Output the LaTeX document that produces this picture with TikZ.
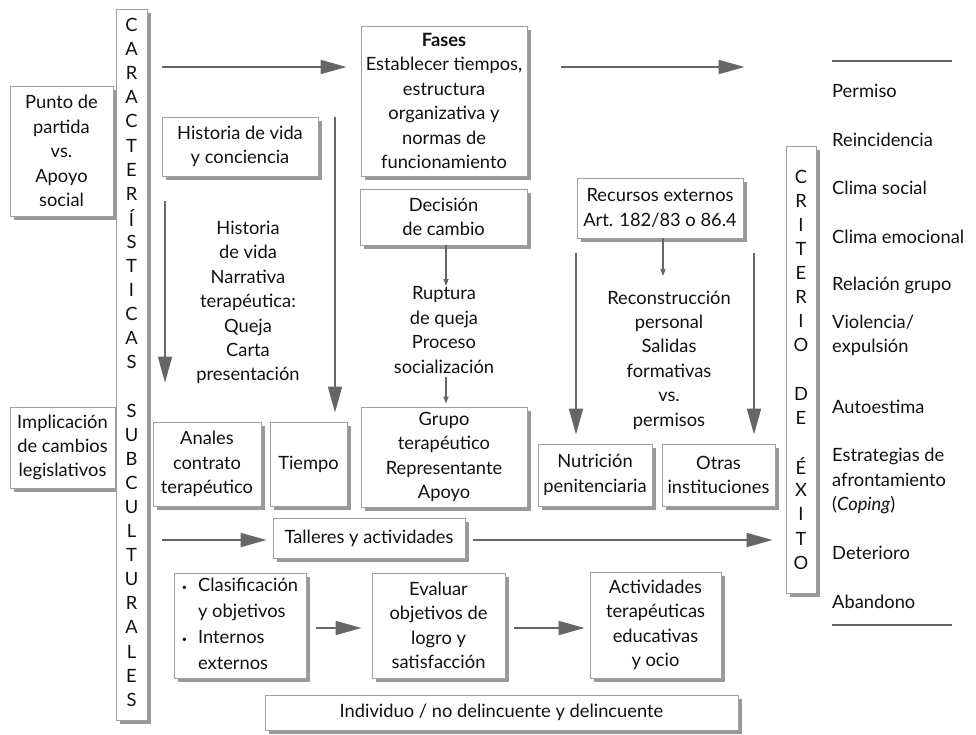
\documentclass[tikz,border=0pt]{standalone}
\usepackage{fontspec}
\setmainfont{Lato}
\usetikzlibrary{arrows.meta,shadows}

\definecolor{boxline}{HTML}{A0A0A0}
\definecolor{shade}{HTML}{999999}
\definecolor{arrowgray}{HTML}{666666}
\definecolor{textgray}{HTML}{111111}

\newcommand\dfont{\fontsize{18.3}{24.4}\selectfont}

\begin{document}
\begin{tikzpicture}[x=1pt,y=-1pt,
  every node/.style={text=textgray},
  box/.style={draw=boxline, line width=0.9pt, fill=white, inner sep=0pt,
    align=center, font=\dfont,
    general shadow={fill=shade, shadow xshift=4pt, shadow yshift=-4pt}},
  plain/.style={inner sep=0pt, align=center, font=\dfont},
  listitem/.style={inner sep=0pt, align=left, anchor=west, font=\dfont},
  letter/.style={inner sep=0pt, font=\dfont},
  bigarrow/.style={draw=arrowgray, line width=1.8pt,
    -{Triangle[length=26pt,width=14pt]}},
  smallarrow/.style={draw=arrowgray, line width=1.3pt,
    -{Triangle[length=7pt,width=5pt]}},
  rulefine/.style={draw=arrowgray, line width=1.6pt}]

\useasboundingbox (0,0) rectangle (976,734);

% ---- left column -------------------------------------------------------
\node[box, minimum width=103pt, minimum height=130pt] (punto) at (61.5,151)
  {Punto de\\partida\\vs.\\Apoyo\\social};
\node[box, minimum width=105pt, minimum height=81pt] (impl) at (62.5,447.5)
  {Implicación\\de cambios\\legislativos};

% vertical band with spelled-out title
\node[box, minimum width=31pt, minimum height=711pt] (carac) at (131.5,364.5) {};
\foreach \ch [count=\i from 0] in {C,A,R,A,C,T,E,R,Í,S,T,I,C,A,S}
  \node[letter] (ca\i) at (131.5,25+24.1*\i) {\ch};
\foreach \ch [count=\i from 0] in {S,U,B,C,U,L,T,U,R,A,L,E,S}
  \node[letter] (su\i) at (131.5,410.5+24.1*\i) {\ch};

% ---- upper part ----------------------------------------------------------
\node[box, minimum width=166pt, minimum height=150pt] (fases) at (444,101)
  {\textbf{Fases}\\Establecer tiempos,\\estructura\\organizativa y\\normas de\\funcionamiento};
\node[box, minimum width=156pt, minimum height=59pt] (historia) at (240,146.5)
  {Historia de vida\\y conciencia};
\node[box, minimum width=167pt, minimum height=56pt] (decision) at (443.5,217)
  {Decisión\\de cambio};
\node[box, minimum width=166pt, minimum height=60pt] (recursos) at (660,208)
  {Recursos externos\\Art. 182/83 o 86.4};

\node[plain] (narrativa) at (248,302.5)
  {Historia\\de vida\\Narrativa\\terapéutica:\\Queja\\Carta\\presentación};
\node[plain] (ruptura) at (444,330)
  {Ruptura\\de queja\\Proceso\\socialización};
\node[plain] (reconstr) at (669,360)
  {Reconstrucción\\personal\\Salidas\\formativas\\vs.\\permisos};

% ---- middle row ----------------------------------------------------------
\node[box, minimum width=108pt, minimum height=84pt] (anales) at (207,464)
  {Anales\\contrato\\terapéutico};
\node[box, minimum width=77pt, minimum height=84pt] (tiempo) at (308.5,464)
  {Tiempo};
\node[box, minimum width=166pt, minimum height=100pt] (grupo) at (444,457)
  {Grupo\\terapéutico\\Representante\\Apoyo};
\node[box, minimum width=114pt, minimum height=62pt] (nutricion) at (595,475)
  {Nutrición\\penitenciaria};
\node[box, minimum width=113pt, minimum height=62pt] (otras) at (718.5,475)
  {Otras\\instituciones};
\node[box, minimum width=192pt, minimum height=40pt] (talleres) at (369,538)
  {Talleres y actividades};

% ---- lower part ----------------------------------------------------------
\node[box, minimum width=132pt, minimum height=105pt] (clasif) at (240,625.5)
  {\begin{tabular}{@{}l@{\hspace{11pt}}l@{}}
     \raisebox{1pt}{\small\textbullet} & Clasificación\\[1.5pt]
      & y objetivos\\[1.5pt]
     \raisebox{1pt}{\small\textbullet} & Internos\\[1.5pt]
      & externos
   \end{tabular}};
\node[box, minimum width=133pt, minimum height=105pt] (evaluar) at (438.5,625.5)
  {Evaluar\\objetivos de\\logro y\\satisfacción};
\node[box, minimum width=131pt, minimum height=106pt] (activ) at (655.5,625)
  {Actividades\\terapéuticas\\educativas\\y ocio};
\node[box, minimum width=473pt, minimum height=35pt] (indiv) at (501.5,712.5)
  {Individuo / no delincuente y delincuente};

% ---- success criteria band and list ---------------------------------------
\node[box, minimum width=30pt, minimum height=447pt] (criterio) at (801,369.5) {};
\foreach \ch [count=\i from 0] in {C,R,I,T,E,R,I,O}
  \node[letter] (cr\i) at (801,177+24*\i) {\ch};
\foreach \ch [count=\i from 0] in {D,E}
  \node[letter] (de\i) at (801,394+24*\i) {\ch};
\foreach \ch [count=\i from 0] in {É,X,I,T,O}
  \node[letter] (ex\i) at (801,466+24.2*\i) {\ch};

\node[listitem] (l1) at (832,91)  {Permiso};
\node[listitem] (l2) at (832,140) {Reincidencia};
\node[listitem] (l3) at (832,188) {Clima social};
\node[listitem] (l4) at (832,237) {Clima emocional};
\node[listitem] (l5) at (832,285) {Relación grupo};
\node[listitem] (l6) at (832,335.5) {Violencia/\\expulsión};
\node[listitem] (l7) at (832,407) {Autoestima};
\node[listitem] (l8) at (832,481) {Estrategias de\\afrontamiento\\(\textit{Coping})};
\node[listitem] (l9) at (832,553) {Deterioro};
\node[listitem] (l10) at (832,602) {Abandono};

\coordinate (ruleAa) at (832,61);
\coordinate (ruleAb) at (952,61);
\coordinate (ruleBa) at (832,625);
\coordinate (ruleBb) at (952,625);
\draw[rulefine] (ruleAa) -- (ruleAb);
\draw[rulefine] (ruleBa) -- (ruleBb);

% ---- connectors ------------------------------------------------------------
\coordinate (rupIn)  at (446,286);
\coordinate (rupOut) at (446,377);
\coordinate (recIn)  at (663,276);
\coordinate (leftTop)  at (576,253);
\coordinate (rightTop) at (754,253);

\draw[bigarrow, shorten <=15pt, shorten >=14pt]
  (carac.east |- 0,67) -- (fases.west |- 0,67);
\draw[bigarrow, shorten <=34pt, shorten >=41pt]
  (fases.east |- 0,67) -- (criterio.west |- 0,67);

\draw[bigarrow, shorten <=25pt, shorten >=39pt]
  (165,0 |- historia.south) -- (165,0 |- anales.north);
\draw[bigarrow, shorten >=9pt]
  (335,0 |- historia.north) -- (335,0 |- tiempo.north);

\draw[smallarrow] (446,0 |- decision.south) -- (rupIn);
\draw[smallarrow, shorten >=3pt] (rupOut) -- (446,0 |- grupo.north);
\draw[smallarrow] (663,0 |- recursos.south) -- (recIn);

\draw[bigarrow, shorten >=9pt] (leftTop) -- (576,0 |- nutricion.north);
\draw[bigarrow, shorten >=9pt] (rightTop) -- (754,0 |- otras.north);

\draw[bigarrow, shorten <=15pt, shorten >=6pt]
  (carac.east |- 0,540) -- (talleres.west |- 0,540);
\draw[bigarrow, shorten <=8pt, shorten >=13pt]
  (talleres.east |- 0,540) -- (criterio.west |- 0,540);

\draw[bigarrow, shorten <=10pt, shorten >=10pt]
  (clasif.east |- 0,628) -- (evaluar.west |- 0,628);
\draw[bigarrow, shorten <=9pt, shorten >=5pt]
  (evaluar.east |- 0,628) -- (activ.west |- 0,628);

\end{tikzpicture}
\end{document}
